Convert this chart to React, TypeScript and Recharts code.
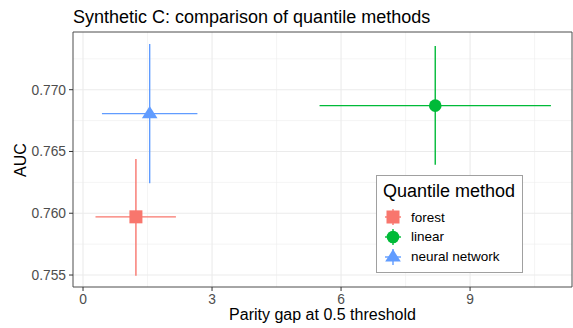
import {
  ScatterChart,
  Scatter,
  XAxis,
  YAxis,
  CartesianGrid,
  ReferenceLine,
  ReferenceArea,
} from 'recharts';

const FONT = '"Liberation Sans", Arial, Helvetica, sans-serif';

const METHODS = ['forest', 'linear', 'neural network'];
const COLORS = ['#F8766D', '#00BA38', '#619CFF'];

// parity gap (x) with its interval
const PARITY_GAP = [1.23, 8.19, 1.55];
const PARITY_LOW = [0.29, 5.5, 0.44];
const PARITY_HIGH = [2.16, 10.88, 2.66];

// AUC (y) with its interval
const AUC = [0.75971, 0.76871, 0.76806];
const AUC_LOW = [0.75495, 0.76393, 0.76243];
const AUC_HIGH = [0.7644, 0.77354, 0.7737];

const X_TICKS = [0, 3, 6, 9];
const X_MINOR = [1.5, 4.5, 7.5, 10.5];
const Y_TICKS = [0.755, 0.76, 0.765, 0.77];
const Y_MINOR = [0.7575, 0.7625, 0.7675, 0.7725];
const X_DOMAIN = [-0.233, 11.37];
const Y_DOMAIN = [0.75403, 0.77467];

const LINE_W = 1.4;

function Marker({ kind, cx, cy, color }: { kind: number; cx: number; cy: number; color: string }) {
  if (kind === 0) {
    return <rect x={cx - 6.5} y={cy - 6.5} width={13} height={13} fill={color} />;
  }
  if (kind === 1) {
    return <circle cx={cx} cy={cy} r={6.3} fill={color} />;
  }
  return (
    <polygon
      points={`${cx},${cy - 7.7} ${cx - 7.8},${cy + 4.6} ${cx + 7.8},${cy + 4.6}`}
      fill={color}
    />
  );
}

const tickStyle = { fill: '#4D4D4D', fontSize: 13.8, fontFamily: FONT };

export default function App() {
  const series = METHODS.map((name, i) => ({
    name,
    color: COLORS[i],
    data: [{ gap: PARITY_GAP[i], auc: AUC[i] }],
  }));

  return (
    <div
      style={{
        position: 'absolute',
        left: 0,
        top: 0,
        width: 573,
        height: 328,
        background: '#ffffff',
        fontFamily: FONT,
      }}
    >
      <div
        style={{
          position: 'absolute',
          left: 73,
          top: 7.5,
          fontSize: 18,
          lineHeight: '18px',
          color: '#000',
          whiteSpace: 'nowrap',
        }}
      >
        Synthetic C: comparison of quantile methods
      </div>

      <ScatterChart
        width={573}
        height={328}
        margin={{ top: 32, right: 1, bottom: 0, left: 0 }}
      >
        {/* minor grid */}
        <CartesianGrid
          horizontalValues={Y_MINOR}
          verticalValues={X_MINOR}
          stroke="#EBEBEB"
          strokeWidth={0.55}
        />
        {/* major grid */}
        <CartesianGrid
          horizontalValues={Y_TICKS}
          verticalValues={X_TICKS}
          stroke="#EBEBEB"
          strokeWidth={1.1}
        />

        <XAxis
          type="number"
          dataKey="gap"
          domain={X_DOMAIN}
          allowDataOverflow
          ticks={X_TICKS}
          height={41}
          tick={tickStyle}
          tickSize={4}
          tickMargin={3}
          tickLine={{ stroke: '#333333', strokeWidth: 1 }}
          axisLine={false}
        />
        <YAxis
          type="number"
          dataKey="auc"
          domain={Y_DOMAIN}
          allowDataOverflow
          ticks={Y_TICKS}
          width={73}
          tick={tickStyle}
          tickFormatter={(v: number) => v.toFixed(3)}
          tickSize={4}
          tickMargin={3}
          tickLine={{ stroke: '#333333', strokeWidth: 1 }}
          axisLine={false}
        />

        {/* interval crosshairs */}
        {series.map((s, i) => (
          <ReferenceLine
            key={`h-${s.name}`}
            segment={[
              { x: PARITY_LOW[i], y: AUC[i] },
              { x: PARITY_HIGH[i], y: AUC[i] },
            ]}
            stroke={s.color}
            strokeWidth={LINE_W}
          />
        ))}
        {series.map((s, i) => (
          <ReferenceLine
            key={`v-${s.name}`}
            segment={[
              { x: PARITY_GAP[i], y: AUC_LOW[i] },
              { x: PARITY_GAP[i], y: AUC_HIGH[i] },
            ]}
            stroke={s.color}
            strokeWidth={LINE_W}
          />
        ))}

        {series.map((s, i) => (
          <Scatter
            key={s.name}
            name={s.name}
            data={s.data}
            fill={s.color}
            isAnimationActive={false}
            shape={(p: any) => <Marker kind={i} cx={p.cx} cy={p.cy} color={s.color} />}
          />
        ))}

        {/* panel border */}
        <ReferenceArea
          x1={X_DOMAIN[0]}
          x2={X_DOMAIN[1]}
          y1={Y_DOMAIN[0]}
          y2={Y_DOMAIN[1]}
          fill="none"
          stroke="#4D4D4D"
          strokeWidth={1}
          ifOverflow="visible"
        />
      </ScatterChart>

      {/* axis titles */}
      <div
        style={{
          position: 'absolute',
          left: 322.5,
          top: 306.5,
          transform: 'translateX(-50%)',
          fontSize: 16,
          lineHeight: '16px',
          color: '#000',
          whiteSpace: 'nowrap',
        }}
      >
        Parity gap at 0.5 threshold
      </div>
      <div
        style={{
          position: 'absolute',
          left: 21,
          top: 159.5,
          transform: 'translate(-50%, -50%) rotate(-90deg)',
          fontSize: 16,
          lineHeight: '16px',
          color: '#000',
          whiteSpace: 'nowrap',
        }}
      >
        AUC
      </div>

      {/* legend */}
      <div
        style={{
          position: 'absolute',
          left: 375.5,
          top: 175,
          width: 145,
          height: 96,
          border: '1px solid #A0A0A0',
          background: '#ffffff',
        }}
      >
        <div
          style={{
            position: 'absolute',
            left: 6.5,
            top: 6,
            fontSize: 18,
            lineHeight: '18px',
            color: '#000',
            whiteSpace: 'nowrap',
          }}
        >
          Quantile method
        </div>
        {series.map((s, i) => (
          <div key={s.name}>
            <svg
              width={20}
              height={20}
              style={{ position: 'absolute', left: 6, top: 31.3 + i * 19.7 }}
            >
              <line x1={10} y1={2} x2={10} y2={18} stroke={s.color} strokeWidth={LINE_W} />
              <line x1={2} y1={10} x2={18} y2={10} stroke={s.color} strokeWidth={LINE_W} />
              <Marker kind={i} cx={10} cy={10} color={s.color} />
            </svg>
            <div
              style={{
                position: 'absolute',
                left: 34.5,
                top: 33.5 + i * 19.7,
                fontSize: 13.5,
                lineHeight: '16px',
                color: '#000',
                whiteSpace: 'nowrap',
              }}
            >
              {s.name}
            </div>
          </div>
        ))}
      </div>
    </div>
  );
}
